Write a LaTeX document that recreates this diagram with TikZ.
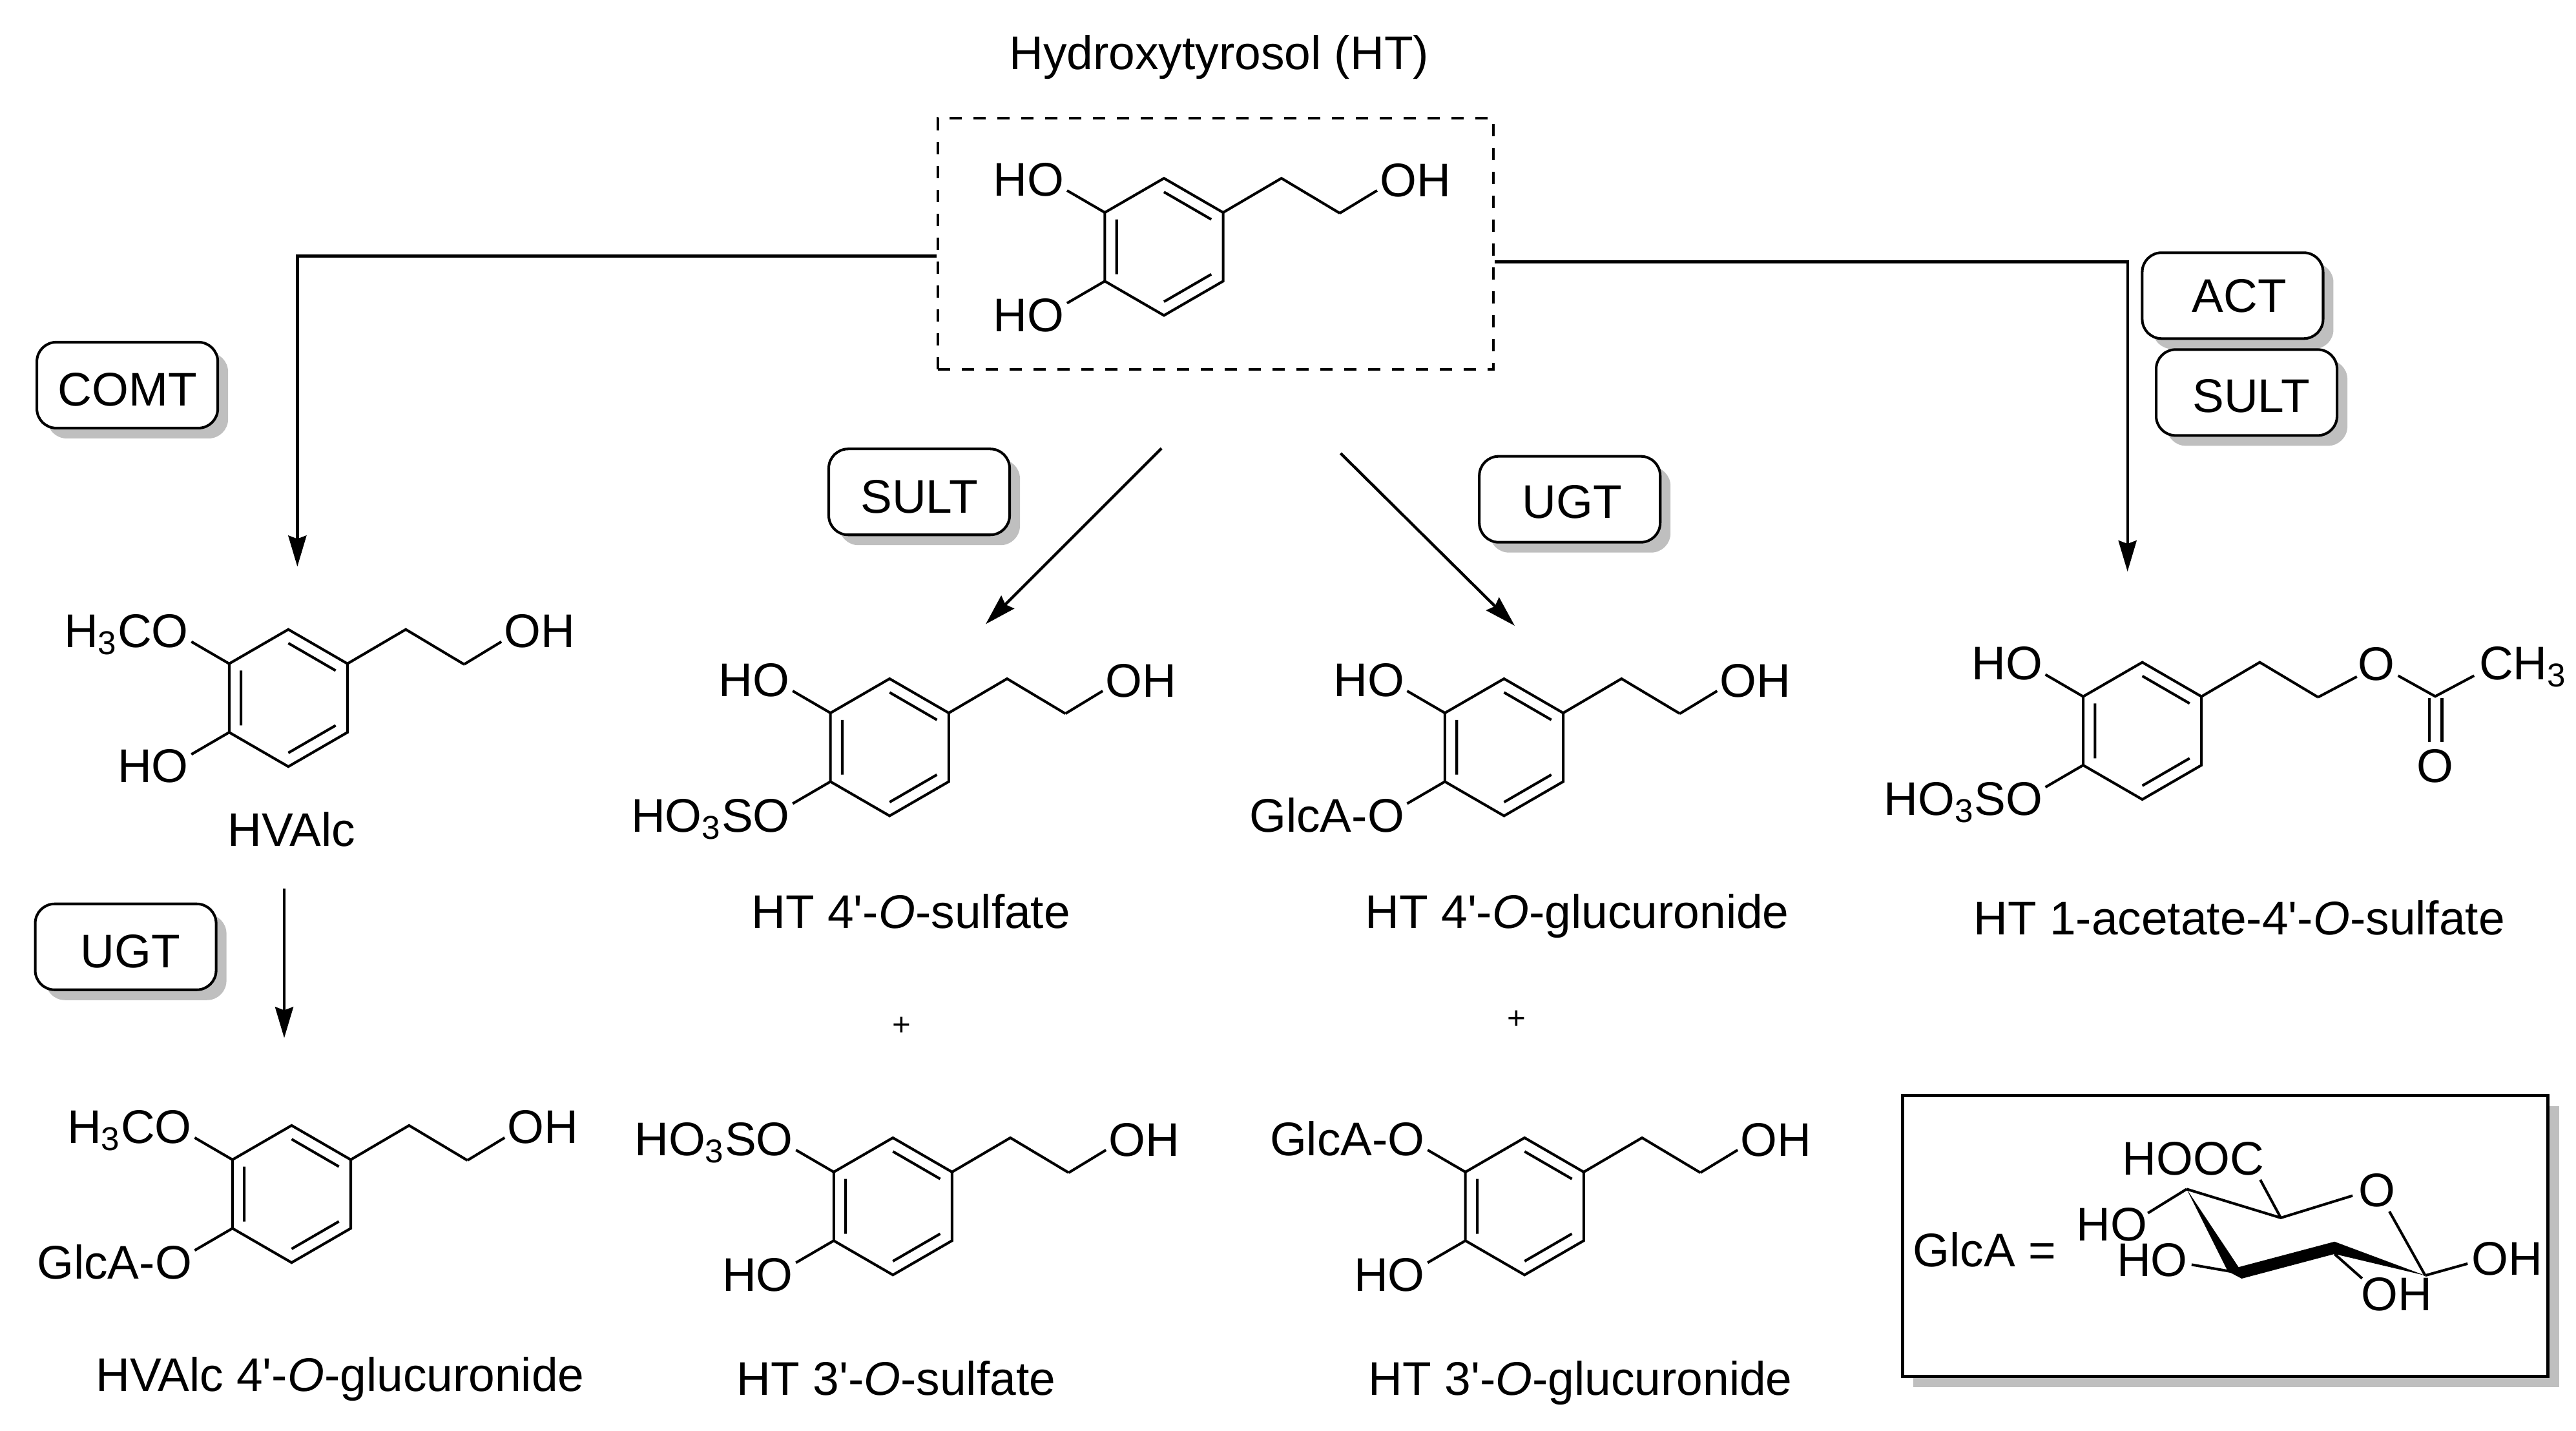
\documentclass[tikz,border=0pt]{standalone}
\usepackage{fontspec}
\setmainfont{Liberation Sans}
\usetikzlibrary{arrows.meta,shadows}

\newcommand{\chemfont}{\fontsize{20.8}{25}\selectfont}
\newcommand{\prm}{\textquotesingle}

\tikzset{
  bond/.style={line width=1.15pt},
  arr/.style={line width=1.25pt, -{Stealth[length=4.8mm,width=2.8mm,inset=0.5mm]}},
  atom/.style={inner sep=0pt, font=\chemfont, text height=14.9pt, text depth=0pt},
  caption/.style={inner sep=0pt, font=\chemfont, text height=14.9pt, text depth=0pt},
  plus/.style={inner sep=0pt, font=\fontsize{14}{16}\selectfont},
  enzyme/.style={draw, fill=white, line width=1.15pt, rounded corners=3mm, font=\chemfont,
    minimum width=2.8cm, minimum height=1.33cm, inner sep=0pt, text height=18.5pt, text depth=0pt,
    drop shadow={shadow xshift=0.16cm, shadow yshift=-0.16cm, fill=black!25, opacity=1}},
  pics/phring/.style 2 args={code={
    \coordinate (-t) at (0,-41.75);
    \coordinate (-ur) at (36,-20.9);
    \coordinate (-lr) at (36,20.9);
    \coordinate (-b) at (0,41.75);
    \coordinate (-ll) at (-36,20.9);
    \coordinate (-ul) at (-36,-20.9);
    \coordinate (-c1) at (71.5,-41.75);
    \coordinate (-c2) at (107,-20.5);
    \draw[bond] (-t) -- (-ur) -- (-lr) -- (-b) -- (-ll) -- (-ul) -- cycle;
    % Inner lines of the double bonds
    \draw[bond] (0,-33.4) -- (28.8,-16.7) (-28.8,-16.7) -- (-28.8,16.7) (0,33.4) -- (28.8,16.7);
    \draw[bond] (-ur) -- (-c1) -- (-c2);
    % Substituents on the left
    \node[atom, anchor=base east] (-up) at (-60.5,-31) {#1};
    \node[atom, anchor=base east] (-lo) at (-60.5,51.5) {#2};
    \coordinate (-upend) at (-59,-34.3);
    \coordinate (-loend) at (-59,34.3);
    \draw[bond] (-ul) -- (-upend) (-ll) -- (-loend);
  }},
  pics/ohtail/.style={code={
    \node[atom] (-oh) at (153,-41) {OH};
    \coordinate (-ohend) at (129.7,-34.3);
    \draw[bond] (107,-20.5) -- (-ohend);
  }}
}

\begin{document}
\begin{tikzpicture}[x=0.2543mm, y=-0.2543mm]
\useasboundingbox (0,0) rectangle (1568,871);

% Parent compound
\node[caption] (htname) at (742,32) {Hydroxytyrosol (HT)};
\node[draw, line width=1.15pt, dash pattern=on 0.19cm off 0.18cm, minimum width=8.6cm, minimum height=3.89cm] (htbox) at (740,148.5) {};
\pic (ht) at (708.5,150.3) {phring={HO}{HO}};
\pic (hto) at (708.5,150.3) {ohtail};

% Enzymes
\node[enzyme] (comt) at (77.5,234.5) {COMT};
\node[enzyme] (sulta) at (559.5,299.5) {SULT};
\node[enzyme, text height=16.5pt] (ugta) at (955.5,304) {\hspace*{2pt}UGT};
\node[enzyme] (ugtb) at (76.5,576.5) {\hspace*{4pt}UGT};
\node[enzyme, text height=14.9pt] (act) at (1359,180) {\hspace*{6pt}ACT};
\node[enzyme, text height=17.5pt] (sultb) at (1367.5,239) {\hspace*{4pt}SULT};

% Arrow ends
\coordinate (hvalcin) at (181,345);
\coordinate (sulfin) at (600,380);
\coordinate (sulfout) at (707,273);
\coordinate (glucin) at (922,381);
\coordinate (glucout) at (816,276);
\coordinate (acetin) at (1295,348);
\coordinate (gluchvout) at (173,541);
\coordinate (gluchvin) at (173,632);

\draw[arr] ([yshift=-0.19cm]htbox.west) -| (hvalcin);
\draw[arr] ([yshift=-0.28cm]htbox.east) -| (acetin);
\draw[arr] (sulfout) -- (sulfin);
\draw[arr] (glucout) -- (glucin);
\draw[arr] (gluchvout) -- (gluchvin);

% Upper row
\pic (hva) at (175.5,425) {phring={H\textsubscript{3}CO}{HO}};
\pic (hvao) at (175.5,425) {ohtail};
\node[caption] (hvaname) at (177.5,505) {HVAlc};

\pic (sfa) at (541.5,455) {phring={HO}{HO\textsubscript{3}SO}};
\pic (sfao) at (541.5,455) {ohtail};
\node[caption] (sfaname) at (554.5,555) {HT 4\prm-\textit{O}-sulfate};

\pic (gla) at (915.5,455) {phring={HO}{GlcA-O}};
\pic (glao) at (915.5,455) {ohtail};
\node[caption] (glaname) at (960,555) {HT 4\prm-\textit{O}-glucuronide};

% Acetate
\pic (ac) at (1304,445) {phring={HO}{HO\textsubscript{3}SO}};
\node[atom] (aco) at (1446.6,404) {O};
\node[atom, anchor=base west] (acme) at (1508.8,413.8) {CH\textsubscript{3}};
\node[atom] (acox) at (1482.3,466) {O};
\coordinate (acc) at (1482.3,424);
\coordinate (acoa) at (1434.6,412);
\coordinate (acob) at (1459.7,411.4);
\coordinate (acmeb) at (1506,411.4);
\draw[bond] (ac-c2) -- (acoa) (acob) -- (acc) -- (acmeb);
\draw[bond] (1478.8,425) -- (1478.8,451.6) (1486.4,425) -- (1486.4,451.6);
\node[caption] (acname) at (1363,559) {HT 1-acetate-4\prm-\textit{O}-sulfate};

\node[plus] (plusa) at (549,625) {+};
\node[plus] (plusb) at (923,621) {+};

% Lower row
\pic (hvg) at (177.5,727) {phring={H\textsubscript{3}CO}{GlcA-O}};
\pic (hvgo) at (177.5,727) {ohtail};
\node[caption] (hvgname) at (207,837) {HVAlc 4\prm-\textit{O}-glucuronide};

\pic (sfb) at (543.5,734.5) {phring={HO\textsubscript{3}SO}{HO}};
\pic (sfbo) at (543.5,734.5) {ohtail};
\node[caption] (sfbname) at (545.5,839) {HT 3\prm-\textit{O}-sulfate};

\pic (glb) at (928,734.5) {phring={GlcA-O}{HO}};
\pic (glbo) at (928,734.5) {ohtail};
\node[caption] (glbname) at (962,839) {HT 3\prm-\textit{O}-glucuronide};

% GlcA box
\node[draw, fill=white, line width=1.4pt, minimum width=9.99cm, minimum height=4.35cm,
  drop shadow={shadow xshift=0.17cm, shadow yshift=-0.17cm, fill=black!25, opacity=1}] (glcbox) at (1354.5,752.5) {};
\node[caption] (glcname) at (1208,761) {GlcA =};
\coordinate (sa) at (1331,724);
\coordinate (sb) at (1388.3,741.5);
\coordinate (sc) at (1476.2,776.6);
\coordinate (sd) at (1421,756);
\coordinate (sdlo) at (1421,763.5);
\coordinate (se) at (1364.3,775.3);
\node[atom] (so) at (1446.7,724.2) {O};
\node[atom] (shooc) at (1335,705) {HOOC};
\node[atom] (shoa) at (1285.5,745.2) {HO};
\node[atom] (shob) at (1310,767) {HO};
\node[atom] (shoc) at (1459,787.5) {OH};
\node[atom] (shod) at (1526,766) {OH};
\draw[bond] (sa) -- (sb) -- (1432,728);
\draw[bond] (1454.4,737.6) -- (sc);
\draw[bond] (sb) -- (1375.8,718.3);
\draw[bond] (sa) -- (1307.4,738.6);
\draw[bond] (se) -- (1334,770);
\draw[bond] (sdlo) -- (1437.8,778.4);
\draw[bond] (sc) -- (1502,769.4);
% Bold front edge
\fill (sa) -- (1362.6,771.5) -- (sd) -- (sc) -- (sdlo) -- (1364.5,778.5) -- (1356,774) -- cycle;
\end{tikzpicture}
\end{document}
